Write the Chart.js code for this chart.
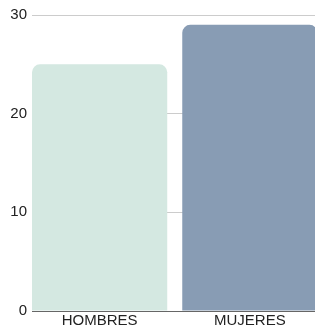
<!DOCTYPE html>
<html>
<head>
<meta charset="utf-8">
<script src="https://cdn.jsdelivr.net/npm/chart.js@4/dist/chart.umd.min.js"></script>
<style>
    html, body { margin: 0; padding: 0; background: #fff; overflow: hidden; }
    #wrap { width: 315px; height: 332px; overflow: hidden; }
</style>
</head>
<body>
<div id="wrap"><canvas id="genderChart" width="325" height="332"></canvas></div>
<script>
    // data
    const categories = ['HOMBRES', 'MUJERES'];
    const counts = [25, 29];
    const barColors = ['#d4e8e1', '#889cb4'];
    const yTicks = [0, 10, 20, 30];

    let ctx = document.getElementById('genderChart');

    new Chart(ctx, {
        type: 'bar',
        data: {
            labels: categories,
            datasets: [{
                label: 'Total',
                data: counts,
                backgroundColor: barColors,
                borderRadius: 8,
                barPercentage: 0.9,
                categoryPercentage: 1.0
            }]
        },
        options: {
            responsive: false,
            animation: false,
            layout: {
                padding: {top: 15, bottom: 1, left: 0, right: 0}
            },
            scales: {
                x: {
                    // first bar sits right against the y axis: start the range a bit later
                    afterBuildTicks: function(scale) {
                        scale._startValue = -0.45;
                        scale._valueRange = 1.95;
                    },
                    grid: {display: false, drawTicks: false},
                    border: {display: true, color: '#666'},
                    ticks: {
                        padding: 1,
                        color: '#222',
                        font: {family: 'Liberation Sans', size: 15}
                    }
                },
                y: {
                    min: yTicks[0],
                    max: yTicks[yTicks.length - 1],
                    afterFit: function(scale) {
                        scale.width = 32;
                    },
                    afterBuildTicks: function(scale) {
                        scale.ticks = yTicks.map(v => ({value: v}));
                    },
                    grid: {color: '#cccccc', drawTicks: false},
                    border: {display: false},
                    ticks: {
                        padding: 5,
                        color: '#222',
                        font: {family: 'Liberation Sans', size: 15}
                    }
                }
            },
            plugins: {
                legend: {display: false},
                title: {display: false},
                tooltip: {enabled: false}
            }
        }
    });
</script>
</body>
</html>
